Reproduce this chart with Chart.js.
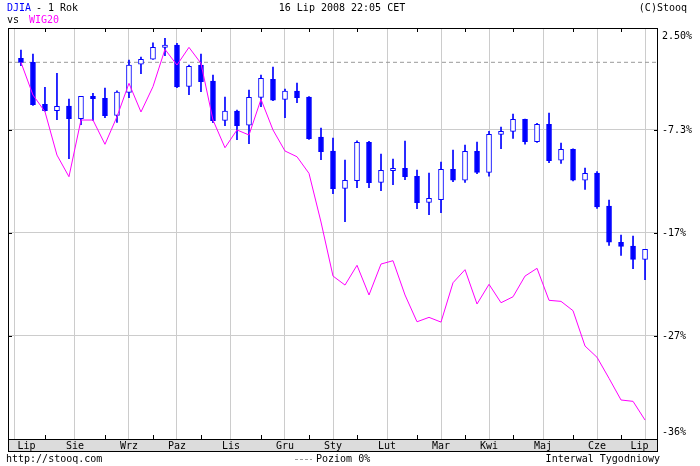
<!DOCTYPE html>
<html>
<head>
<meta charset="utf-8">
<script src="https://cdn.jsdelivr.net/npm/chart.js@4.4.1/dist/chart.umd.min.js"></script>
<style>
    html, body { margin: 0; padding: 0; background: #fff; }
    canvas { display: block; }
</style>
</head>
<body>
<canvas id="chart" width="700" height="466" style="width:700px;height:466px"></canvas>
<script>
    // Weekly DJIA candles and WIG20 close, % change, July 2007 - July 2008
    const djiaOpen = [-0.45, -0.83, -4.85, -5.46, -5.01, -6.22, -4.08, -4.27, -5.90, -3.70,
        -1.02, -0.54, 0.60, 0.82, -3.13, -1.09, -2.62, -6.38, -5.49, -6.85,
        -4.18, -2.46, -4.37, -3.57, -4.15, -7.97, -9.31, -12.88, -12.15, -8.48,
        -12.31, -11.20, -10.97, -11.73, -14.22, -13.97, -11.06, -12.09, -9.34, -11.35,
        -7.72, -7.43, -6.28, -8.42, -6.76, -10.20, -9.15, -12.11, -11.42, -14.57,
        -18.04, -18.40, -19.67];
    const djiaHigh = [0.35, -0.04, -3.22, -1.88, -4.34, -4.08, -3.79, -3.29, -3.55, -0.61,
        -0.32, 1.02, 1.47, 0.99, -1.09, -0.04, -2.04, -4.15, -5.40, -3.48,
        -2.04, -1.28, -3.38, -2.81, -4.10, -7.11, -8.07, -10.17, -8.33, -8.39,
        -9.60, -10.08, -8.36, -11.13, -11.42, -10.36, -9.22, -8.74, -8.45, -7.43,
        -7.02, -5.77, -6.25, -6.66, -5.68, -8.55, -9.10, -10.94, -11.29, -14.00,
        -17.35, -17.44, -18.71];
    const djiaLow = [-1.16, -4.95, -5.50, -6.32, -10.05, -6.80, -6.38, -6.13, -6.57, -4.22,
        -1.92, -0.56, -0.20, -3.26, -3.93, -3.64, -6.61, -6.89, -8.23, -8.61,
        -5.08, -4.50, -6.13, -4.69, -8.20, -10.14, -13.40, -16.07, -12.82, -12.82,
        -13.11, -12.54, -12.06, -14.83, -15.40, -15.21, -12.25, -12.31, -11.48, -11.73,
        -9.09, -8.10, -8.67, -8.48, -10.43, -10.49, -12.18, -12.98, -14.79, -18.33,
        -19.29, -20.57, -21.62];
    const djiaClose = [-0.83, -4.89, -5.46, -5.04, -6.22, -4.08, -4.31, -5.94, -3.67, -1.09,
        -0.54, 0.60, 0.82, -3.19, -1.21, -2.69, -6.42, -5.49, -6.89, -4.18,
        -2.36, -4.44, -3.57, -4.22, -8.14, -9.38, -12.92, -12.11, -8.48, -12.34,
        -11.16, -10.97, -11.77, -14.26, -13.84, -11.06, -12.09, -9.34, -11.35, -7.72,
        -7.43, -6.28, -8.42, -6.76, -10.24, -9.15, -12.11, -11.45, -14.67, -18.04,
        -18.43, -19.67, -18.71];
    const wig20 = [-0.83, -3.96, -5.55, -9.70, -11.77, -6.35, -6.35, -8.67, -6.03, -2.84,
        -5.58, -3.16, 0.41, -1.09, 0.60, -0.93, -6.35, -9.00, -7.30, -7.78,
        -4.37, -7.30, -9.31, -9.86, -11.45, -16.10, -21.27, -22.13, -20.24, -23.08,
        -20.12, -19.80, -23.08, -25.64, -25.22, -25.67, -21.91, -20.66, -23.94, -22.06,
        -23.82, -23.25, -21.27, -20.53, -23.59, -23.69, -24.58, -27.96, -29.04, -31.05,
        -33.12, -33.25, -35.04];

    // Month axis: week index of each month's first candle, and month names
    const monthStarts = [2, 7, 11, 15, 20, 24, 28, 33, 37, 41, 46, 50];
    const monthLabels = ['Lip', 'Sie', 'Wrz', 'Paz', 'Lis', 'Gru', 'Sty', 'Lut', 'Mar', 'Kwi', 'Maj', 'Cze', 'Lip'];

    // Right axis ticks
    const yTickValues = [2.45, -7.3, -17.15, -27, -36.85];
    const yTickLabels = ['2.50%', '-7.3%', '-17%', '-27%', '-36%'];
    const zeroLevel = -0.83; // "Poziom 0%" dashed line

    const xMin = -1.08, xMax = 53.08;
    const BLUE = '#0000ff', MAGENTA = '#ff00ff', GRID = '#cccccc';
    const FONT = '10px "DejaVu Sans Mono", "Liberation Mono", monospace';

    const candleBodies = djiaOpen.map((o, i) => ({ x: i, y: [o, djiaClose[i]] }));
    const candleWicks = djiaHigh.map((h, i) => ({ x: i, y: [djiaLow[i], h] }));
    const wigPoints = wig20.map((v, i) => ({ x: i, y: v }));

    // Draws frame, tick marks, month band, axis labels, header and footer
    const decorations = {
        id: 'decorations',
        beforeDraw(chart) {
            const ctx = chart.ctx;
            ctx.save();
            ctx.fillStyle = '#fff';
            ctx.fillRect(0, 0, chart.width, chart.height);
            ctx.restore();
        },
        afterDraw(chart) {
            const ctx = chart.ctx;
            const area = chart.chartArea;
            const xs = chart.scales.x, ys = chart.scales.y;
            ctx.save();
            ctx.lineWidth = 1;
            ctx.strokeStyle = '#000';

            // frame
            ctx.strokeRect(area.left + 0.5, area.top + 0.5, area.right - area.left - 1, area.bottom - area.top);

            // tick marks
            ctx.beginPath();
            monthStarts.forEach(m => {
                const px = Math.round(xs.getPixelForValue(m)) + 0.5;
                ctx.moveTo(px, area.top); ctx.lineTo(px, area.top + 4);
                ctx.moveTo(px, area.bottom); ctx.lineTo(px, area.bottom - 4);
            });
            yTickValues.forEach(v => {
                const py = Math.round(ys.getPixelForValue(v)) + 0.5;
                ctx.moveTo(area.left, py); ctx.lineTo(area.left + 4, py);
                ctx.moveTo(area.right, py); ctx.lineTo(area.right - 4, py);
            });
            ctx.stroke();

            // month band
            const bandTop = area.bottom + 0.5, bandH = 12;
            ctx.fillStyle = '#dcdcdc';
            ctx.fillRect(area.left + 0.5, bandTop, area.right - area.left - 1, bandH);
            ctx.strokeRect(area.left + 0.5, bandTop, area.right - area.left - 1, bandH);

            ctx.font = FONT;
            ctx.textBaseline = 'middle';
            ctx.fillStyle = '#000';
            ctx.textAlign = 'center';
            const edges = [xMin, ...monthStarts, xMax];
            monthLabels.forEach((lab, i) => {
                const a = xs.getPixelForValue(edges[i]);
                const b = xs.getPixelForValue(edges[i + 1]);
                ctx.fillText(lab, (a + b) / 2, bandTop + bandH / 2 + 1);
            });

            // right axis labels
            ctx.textAlign = 'left';
            yTickValues.forEach((v, i) => {
                let py = ys.getPixelForValue(v);
                py = Math.min(Math.max(py, area.top + 8), area.bottom - 7);
                ctx.fillText(yTickLabels[i], area.right + 4, py);
            });

            // header
            ctx.fillStyle = BLUE;
            ctx.fillText('DJIA', 7, 8);
            ctx.fillStyle = '#000';
            ctx.fillText('- 1 Rok', 36, 8);
            ctx.fillText('vs', 7, 20);
            ctx.fillStyle = MAGENTA;
            ctx.fillText('WIG20', 29, 20);
            ctx.fillStyle = '#000';
            ctx.textAlign = 'center';
            ctx.fillText('16 Lip 2008 22:05 CET', 342, 8);
            ctx.textAlign = 'right';
            ctx.fillText('(C)Stooq', 687, 8);

            // footer
            ctx.textAlign = 'left';
            ctx.fillText('http://stooq.com', 6, 459);
            ctx.fillText('Poziom 0%', 316, 459);
            ctx.textAlign = 'right';
            ctx.fillText('Interwal Tygodniowy', 660, 459);
            ctx.strokeStyle = '#999';
            ctx.setLineDash([3, 2]);
            ctx.beginPath();
            ctx.moveTo(295, 459.5); ctx.lineTo(312, 459.5);
            ctx.stroke();

            ctx.restore();
        }
    };

    new Chart(document.getElementById('chart').getContext('2d'), {
        data: {
            datasets: [
                {
                    type: 'line',
                    label: 'WIG20',
                    data: wigPoints,
                    borderColor: MAGENTA,
                    borderWidth: 1,
                    pointRadius: 0,
                    tension: 0,
                    order: 0
                },
                {
                    type: 'bar',
                    label: 'DJIA body',
                    data: candleBodies,
                    backgroundColor: djiaOpen.map((o, i) => djiaClose[i] < o ? BLUE : '#ffffff'),
                    borderColor: BLUE,
                    borderWidth: 1,
                    borderSkipped: false,
                    barThickness: 5,
                    grouped: false,
                    order: 1
                },
                {
                    type: 'bar',
                    label: 'DJIA wick',
                    data: candleWicks,
                    backgroundColor: BLUE,
                    borderWidth: 0,
                    barThickness: 1,
                    grouped: false,
                    order: 2
                },
                {
                    type: 'line',
                    label: 'Poziom 0%',
                    data: [{ x: xMin, y: zeroLevel }, { x: xMax, y: zeroLevel }],
                    borderColor: '#999999',
                    borderWidth: 1,
                    borderDash: [4, 3],
                    pointRadius: 0,
                    order: 3
                }
            ]
        },
        options: {
            responsive: false,
            animation: false,
            devicePixelRatio: 1,
            layout: { padding: { left: 8, right: 42, top: 28, bottom: 27 } },
            plugins: { legend: { display: false }, tooltip: { enabled: false } },
            scales: {
                x: {
                    type: 'linear',
                    min: xMin,
                    max: xMax,
                    offset: false,
                    afterBuildTicks: scale => { scale.ticks = monthStarts.map(v => ({ value: v })); },
                    grid: { color: GRID, drawTicks: false },
                    border: { display: false },
                    ticks: { display: false }
                },
                y: {
                    type: 'linear',
                    position: 'right',
                    min: yTickValues[yTickValues.length - 1],
                    max: yTickValues[0],
                    afterBuildTicks: scale => { scale.ticks = yTickValues.map(v => ({ value: v })); },
                    grid: { color: GRID, drawTicks: false },
                    border: { display: false },
                    ticks: { display: false }
                }
            }
        },
        plugins: [decorations]
    });
</script>
</body>
</html>
